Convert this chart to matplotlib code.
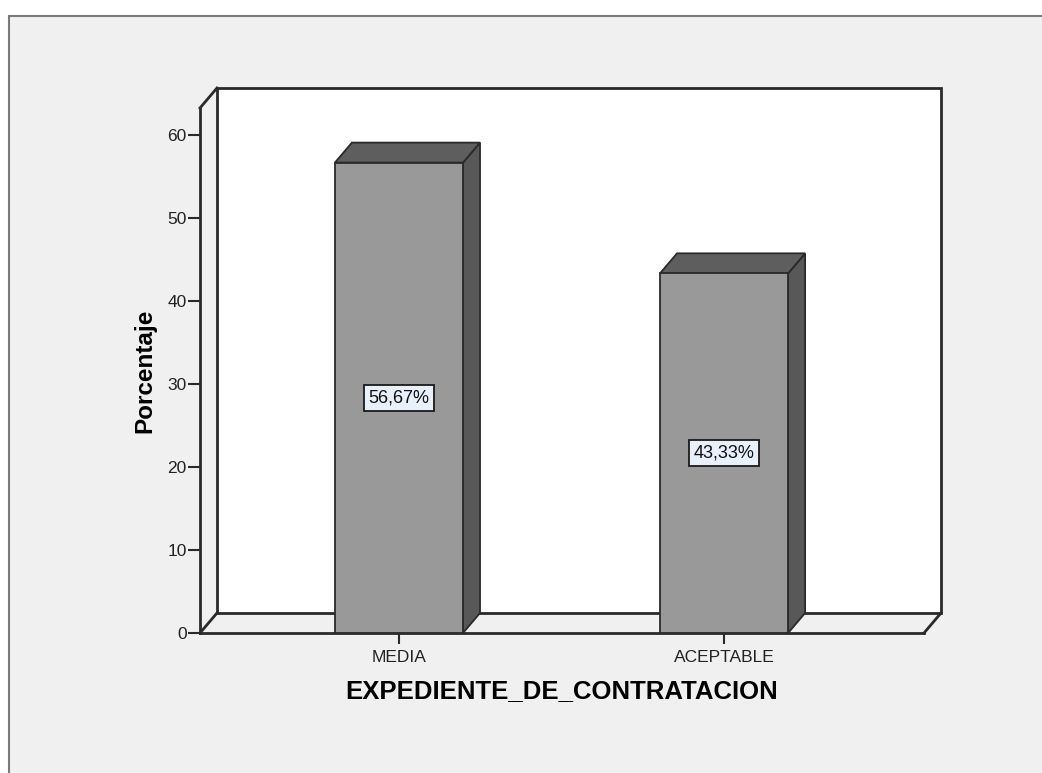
import matplotlib
matplotlib.use("Agg")
import matplotlib.pyplot as plt
from matplotlib.patches import Polygon, Rectangle

# ── data ──
categories = ["MEDIA", "ACEPTABLE"]
percentages = [56.67, 43.33]
y_ticks = [0, 10, 20, 30, 40, 50, 60]
x_title = "EXPEDIENTE_DE_CONTRATACION"
y_title = "Porcentaje"

# ── style ──
FRONT = "#999999"
TOP = "#5e5e5e"
SIDE = "#585858"
EDGE = "#2a2a2a"
PANEL = "#f0f0f0"
LABEL_BG = "#e8f0fc"

plt.rcParams["font.family"] = ["Liberation Sans", "DejaVu Sans"]

W, H = 1042, 773
fig = plt.figure(figsize=(W / 100, H / 100), dpi=100)
fig.patch.set_facecolor("white")

# outer grey panel (SPSS chart frame), kept behind the axes
fig.patches.append(Rectangle((9 / W, -0.05), 1.1, 1.05 - 16 / H,
                             transform=fig.transFigure, facecolor=PANEL,
                             edgecolor="#7a7a7a", linewidth=1.5, zorder=-10))

# front plane of the 3D box
ax = fig.add_axes([200 / W, 1 - 633 / H, 724 / W, 525 / H])
ax.set_zorder(1)
ax.patch.set_visible(False)
for s in ax.spines.values():
    s.set_visible(False)

x0, x1 = -0.612, 1.615
ytop = 63.25
ax.set_xlim(x0, x1)
ax.set_ylim(0, ytop)

# depth offset in data units (17 px right, 20 px up)
DX, DY = 17 / 325, 20 / 8.3
BAR_W = 0.394

# back wall
ax.add_patch(Polygon([(x0 + DX, DY), (x1 + DX, DY), (x1 + DX, ytop + DY), (x0 + DX, ytop + DY)],
                     closed=True, facecolor="white", edgecolor=EDGE, linewidth=2,
                     clip_on=False, zorder=1))
# floor and left side outlines
line_kw = dict(color=EDGE, linewidth=2, clip_on=False, zorder=2, solid_capstyle="projecting")
ax.plot([x0, x1], [0, 0], **line_kw)
ax.plot([x0, x0 + DX], [0, DY], **line_kw)
ax.plot([x1, x1 + DX], [0, DY], **line_kw)
ax.plot([x0, x0], [0, ytop], **line_kw)
ax.plot([x0, x0 + DX], [ytop, ytop + DY], **line_kw)

# bars: side, top, front faces
xs = list(range(len(categories)))
for x, v in zip(xs, percentages):
    l, r = x - BAR_W / 2, x + BAR_W / 2
    ax.add_patch(Polygon([(r, 0), (r + DX, DY), (r + DX, v + DY), (r, v)], closed=True,
                         facecolor=SIDE, edgecolor=EDGE, linewidth=1.3, zorder=3))
    ax.add_patch(Polygon([(l, v), (r, v), (r + DX, v + DY), (l + DX, v + DY)], closed=True,
                         facecolor=TOP, edgecolor=EDGE, linewidth=1.3, zorder=3))
ax.bar(xs, percentages, width=BAR_W, color=FRONT, edgecolor=EDGE, linewidth=1.3, zorder=4)

# value labels in the middle of each bar
for x, v in zip(xs, percentages):
    ax.text(x, v / 2, f"{v:.2f}%".replace(".", ","), ha="center", va="center",
            fontsize=13, color="#111111", zorder=6,
            bbox=dict(boxstyle="square,pad=0.25", facecolor=LABEL_BG,
                      edgecolor="#1a1a1a", linewidth=1.3))

# ticks
ax.set_yticks(y_ticks)
ax.set_yticklabels([str(t) for t in y_ticks], fontsize=12.5, color="#222222")
ax.set_xticks(xs)
ax.set_xticklabels(categories, fontsize=12.5, color="#222222")
ax.tick_params(axis="y", direction="out", length=8.5, width=1.5, color=EDGE, pad=1)
ax.tick_params(axis="x", direction="out", length=8, width=1.5, color=EDGE, pad=4)

ax.set_xlabel(x_title, fontsize=18.5, fontweight="bold", va="center")
ax.xaxis.set_label_coords(0.5, (633 - 691) / 525)
ax.set_ylabel(y_title, fontsize=17.5, fontweight="bold", va="center")
ax.yaxis.set_label_coords((145 - 200) / 724, 0.5)

fig.savefig("out.png", dpi=100)
